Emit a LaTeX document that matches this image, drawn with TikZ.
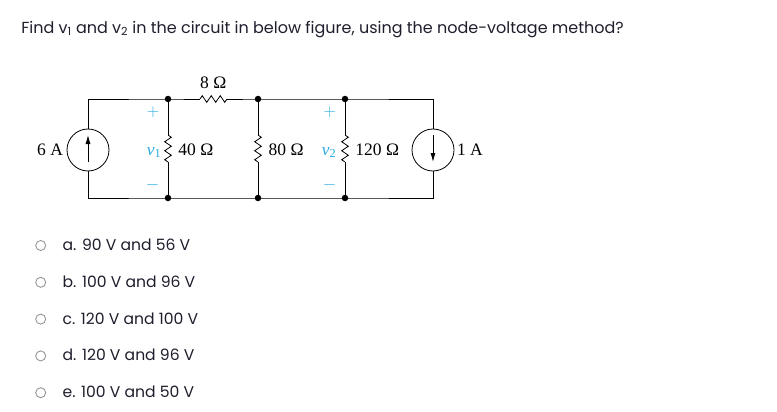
\documentclass[tikz,border=0pt]{standalone}
\usepackage{fontspec}
\setmainfont{Poppins}
\newfontfamily\circfont{Liberation Serif}
\usetikzlibrary{positioning,arrows.meta,decorations.pathmorphing}
\definecolor{voltblue}{RGB}{41,171,226}
\definecolor{qtext}{RGB}{30,30,45}
\definecolor{radiogray}{RGB}{150,150,150}
\newcommand{\volt}[1]{{\circfont\itshape v\upshape\textsubscript{#1}}}
\tikzset{
	resistor/.style={decorate, decoration={zigzag, segment length=9pt, amplitude=3.3pt}},
	junction/.style={circle, fill, inner sep=0pt, minimum size=6.5pt},
	source/.style={circle, draw, minimum size=42pt, inner sep=0pt},
	cval/.style={inner sep=0pt, font=\circfont\fontsize{17.5}{20}\selectfont},
	pol/.style={inner sep=0pt, text=voltblue, font=\circfont\fontsize{17.5}{20}\selectfont},
	sign/.style={inner sep=0pt, text=voltblue, font=\fontsize{17}{20}\selectfont},
	radio/.style={circle, draw=radiogray, line width=0.9pt, minimum size=10pt, inner sep=0pt},
	choice/.style={anchor=base west, inner sep=0pt, text=qtext, font=\fontsize{15.6}{18}\selectfont},
}

\begin{document}
\begin{tikzpicture}[x=1pt, y=-1pt, line width=0.8pt]
	\useasboundingbox (0,0) rectangle (777,412);
	% question
	\node[anchor=base west, inner sep=0pt, text=qtext, font=\fontsize{16}{19}\selectfont] (question) at (21,33.3)
		{Find v\textsubscript{1} and v\textsubscript{2} in the circuit in below figure, using the node-voltage method?};

	% circuit junctions
	\coordinate (tl) at (88,99);   \coordinate (bl) at (88,198);
	\coordinate (n1) at (168,99);  \coordinate (m1) at (168,198);
	\coordinate (n2) at (258,99);  \coordinate (m2) at (258,198);
	\coordinate (n3) at (345,99);  \coordinate (m3) at (345,198);
	\coordinate (tr) at (433,99);  \coordinate (br) at (433,198);
	\coordinate (r8a) at (200,99); \coordinate (r8b) at (227,99);
	\coordinate (ra1) at (168,135); \coordinate (rb1) at (168,162);
	\coordinate (ra2) at (258,135); \coordinate (rb2) at (258,162);
	\coordinate (ra3) at (345,135); \coordinate (rb3) at (345,162);

	\node[source] (s6) at (88,150) {};
	\node[source] (s1) at (433,150) {};
	\draw[-{Latex[length=9pt,width=5pt]}] ([yshift=-12pt]s6.center) -- ([yshift=15pt]s6.center);
	\draw[-{Latex[length=9pt,width=5pt]}] ([yshift=15pt]s1.center) -- ([yshift=-12pt]s1.center);

	\draw (s6.north) -- (tl) -- (n1) -- (r8a);
	\draw[resistor] (r8a) -- (r8b);
	\draw (r8b) -- (n2) -- (n3) -- (tr) -- (s1.north);
	\draw (s6.south) -- (bl) -- (m1) -- (m2) -- (m3) -- (br) -- (s1.south);
	\foreach \k in {1,2,3} {
		\draw (n\k) -- (ra\k);
		\draw[resistor] (ra\k) -- (rb\k);
		\draw (rb\k) -- (m\k);
		\node[junction] at (n\k) {};
		\node[junction] at (m\k) {};
	}

	% values
	\node[cval, anchor=base] (l8) at (213.3,88.3) {8 Ω};
	\node[cval, anchor=base east] (l6) at (63.3,155) {6 A};
	\node[cval, anchor=base west] (l40) at (178,155) {40 Ω};
	\node[cval, anchor=base west] (l80) at (268.3,155) {80 Ω};
	\node[cval, anchor=base west] (l120) at (355,155) {120 Ω};
	\node[cval, anchor=base west] (l1) at (456.7,155) {1 A};

	% polarities
	\node[pol, anchor=base east] (v1) at (161.7,155) {\volt{1}};
	\node[pol, anchor=base east] (v2) at (336.7,155) {\volt{2}};
	\node[sign] (p1) at (153,112.5) {$+$};
	\node[sign] (q1) at (152.5,185) {$-$};
	\node[sign] (p2) at (329.8,112.5) {$+$};
	\node[sign] (q2) at (329.5,185) {$-$};

	% answers
	\node[radio] (oa) at (40.7,245.5) {};
	\node[radio] (ob) at (40.7,282.3) {};
	\node[radio] (oc) at (40.7,319.1) {};
	\node[radio] (od) at (40.7,355.9) {};
	\node[radio] (oe) at (40.7,392.7) {};
	\node[choice] (ca) at (62.3,250.5) {a. 90 V and 56 V};
	\node[choice] (cb) at (62.3,287.3) {b. 100 V and 96 V};
	\node[choice] (cc) at (62.3,324.1) {c. 120 V and 100 V};
	\node[choice] (cd) at (62.3,360.9) {d. 120 V and 96 V};
	\node[choice] (ce) at (62.3,397.7) {e. 100 V and 50 V};
\end{tikzpicture}
\end{document}
